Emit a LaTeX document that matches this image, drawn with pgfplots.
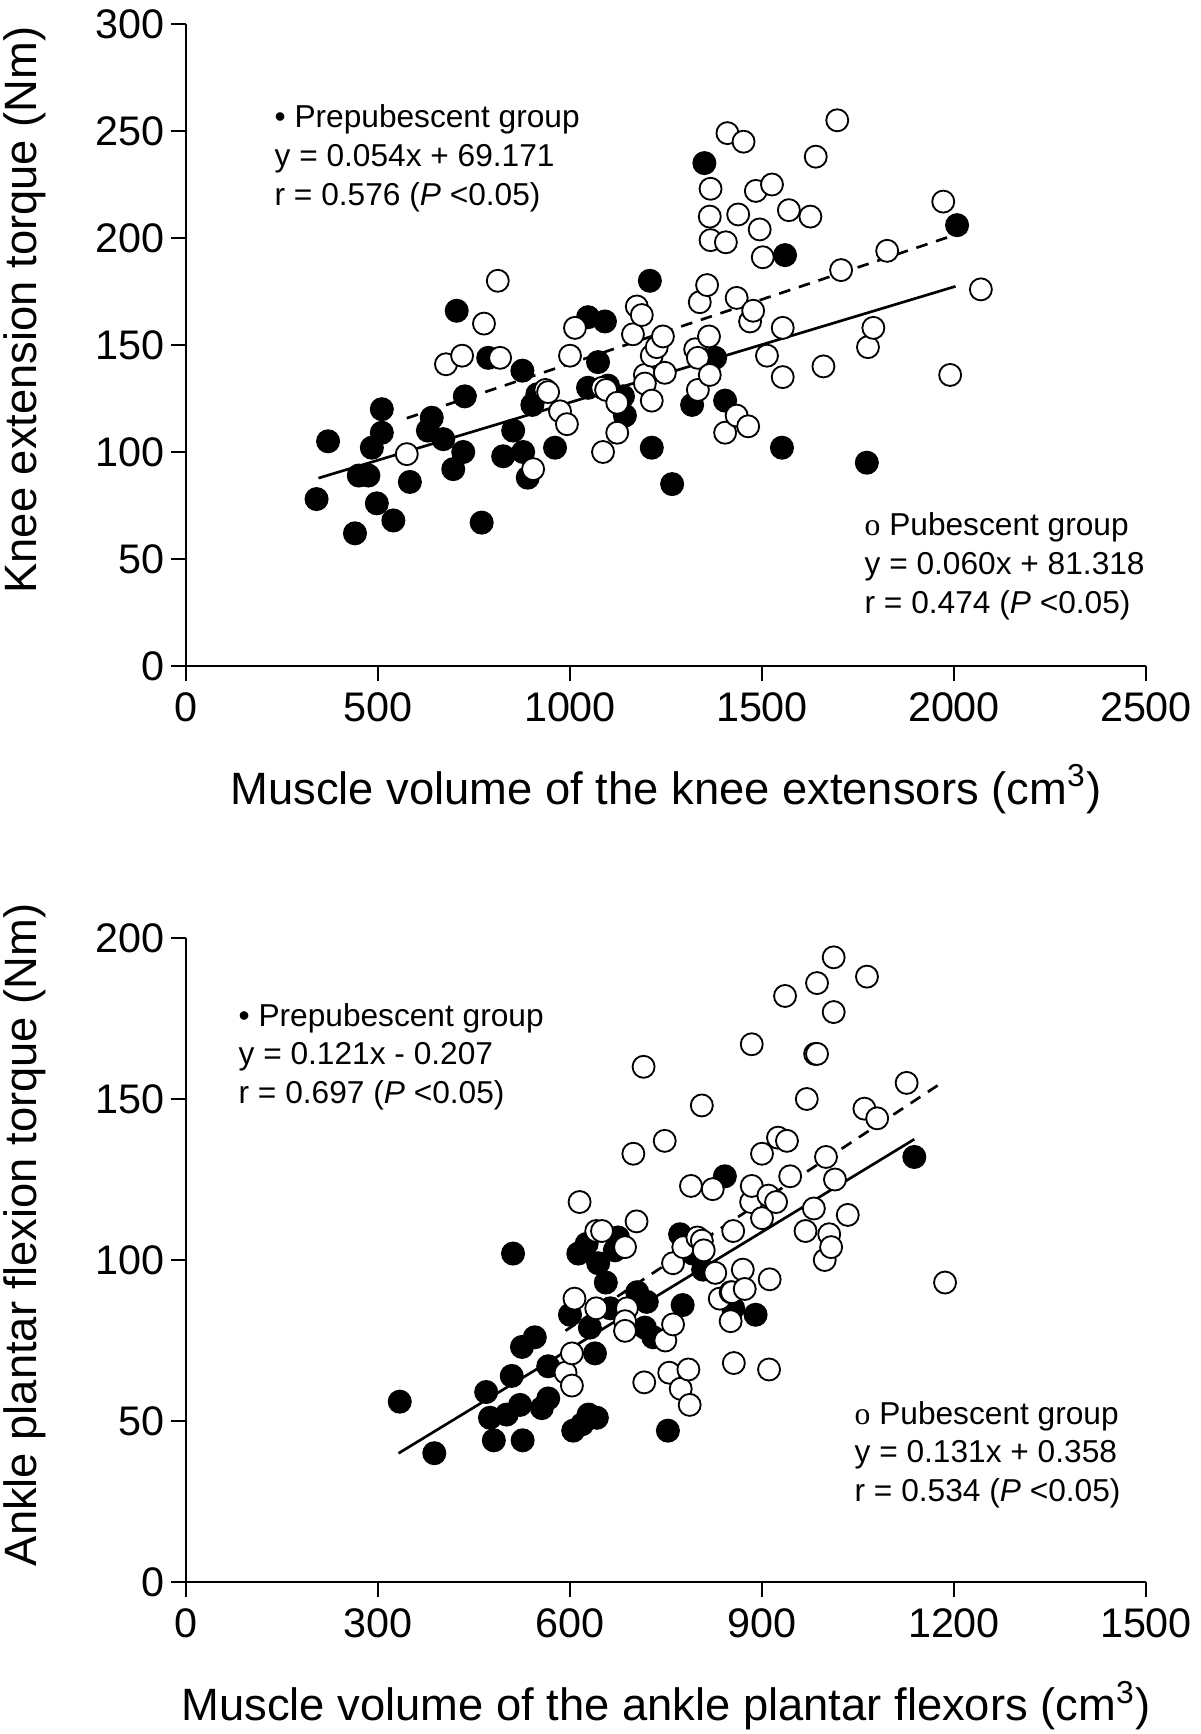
\documentclass[border=0pt]{standalone}
\usepackage{fontspec}
\setmainfont{Liberation Sans}
\newfontfamily\seriffont{Liberation Serif}
\usepackage{pgfplots}
\pgfplotsset{compat=1.18}
\pgfplotsset{
  myax/.style={
    scale only axis, width=288pt, anchor=south west,
    axis x line*=bottom, axis y line*=left,
    axis line style={line width=0.7pt},
    tick style={line width=0.7pt, black},
    major tick length=4.5pt,
    tick align=outside,
    every tick label/.append style={font=\fontsize{12.4}{14}\selectfont},
    yticklabel style={inner xsep=1.8pt},
    /pgf/number format/assume math mode=true,
    /pgf/number format/set thousands separator={},
    xmin=0, ymin=0,
    clip=false,
    label style={font=\fontsize{13.6}{16}\selectfont},
    xlabel style={at={(axis description cs:0.5,-0.215)}, anchor=base},
  },
  filled/.style={only marks, mark=*, mark size=3.4pt, mark options={fill=black, draw=black, line width=0.4pt}},
  open/.style={only marks, mark=*, mark size=3.3pt, mark options={fill=white, draw=black, line width=0.55pt}},
}
\tikzset{ann/.style={anchor=base west, font=\fontsize{9.5}{11}\selectfont, inner sep=0pt}}
\begin{document}
\begin{tikzpicture}
\useasboundingbox (0pt,0pt) rectangle (360pt,520.2pt);
% ---------------- top ----------------
\begin{axis}[myax, at={(55.8pt,320.4pt)}, height=192.6pt,
  xmax=2500, ymax=300,
  xtick={0,500,...,2500}, ytick={0,50,...,300},
  xlabel={Muscle volume of the knee extensors (cm\textsuperscript{3})},
  ylabel={Knee extension torque (Nm)},
  ylabel style={at={(axis description cs:-0.168,0.5545)}, anchor=center},
]
\addplot[filled] coordinates {
(340,78) (370,105) (440,62) (484,102) (450,89) (475,89) (497,76) (510,120)
(510,109) (540,68) (583,86) (630,110) (640,116) (670,106) (705,166) (696,92)
(722,100) (726,126) (770,67) (787,144) (826,98) (852,110) (876,138) (878,100)
(890,88) (902,122) (915,127) (961,102) (1047,130) (1047,163) (1073,142) (1091,161)
(1099,131) (1138,126) (1143,117) (1208,180) (1213,102) (1266,85) (1318,122) (1350,235)
(1378,144) (1404,124) (1552,102) (1560,192) (1773,95) (2008,206)
};
\addplot[open] coordinates {
(575,99) (677,141) (719,145) (776,160) (812,180) (818,144) (904,92) (936,129)
(943,128) (974,119) (992,113) (1000,145) (1013,158) (1084,130) (1086,100) (1094,129)
(1123,123) (1123,109) (1164,155) (1174,168) (1187,164) (1195,136) (1195,132) (1213,124)
(1213,145) (1226,149) (1242,154) (1247,137) (1326,148) (1333,144) (1333,129) (1338,170)
(1357,178) (1362,154) (1364,136) (1364,210) (1366,223) (1366,199) (1404,109) (1406,198)
(1410,249) (1434,172) (1434,117) (1438,211) (1452,245) (1464,112) (1469,161) (1477,166)
(1484,222) (1494,204) (1502,191) (1513,145) (1526,225) (1554,158) (1554,135) (1570,213)
(1626,210) (1640,238) (1660,140) (1696,255) (1706,185) (1776,149) (1790,158) (1826,194)
(1972,217) (1990,136) (2070,176)
};
\addplot[line width=0.8pt, black] coordinates {(345,87.8) (2004,177.4)};
\addplot[line width=0.8pt, black, dash pattern=on 3.5pt off 2.7pt] coordinates {(575,115.8) (2035,203.4)};
\end{axis}
% ---------------- bottom ----------------
\begin{axis}[myax, at={(55.8pt,45.6pt)}, height=193.2pt,
  xmax=1500, ymax=200,
  xtick={0,300,...,1500}, ytick={0,50,...,200},
  xlabel={Muscle volume of the ankle plantar flexors (cm\textsuperscript{3})},
  ylabel={Ankle plantar flexion torque (Nm)},
  ylabel style={at={(axis description cs:-0.168,0.539)}, anchor=center},
]
\addplot[filled] coordinates {
(334,56) (388,40) (469,59) (475,51) (481,44) (501,52) (509,64) (511,102)
(522,55) (525,73) (526,44) (545,76) (556,54) (566,57) (566,67) (600,83)
(605,47) (619,49) (613,102) (626,105) (629,52) (631,79) (639,71) (642,51)
(644,99) (656,93) (663,85) (670,103) (675,107) (705,90) (717,79) (720,87)
(730,76) (753,47) (772,108) (776,86) (792,102) (808,97) (842,126) (855,85)
(890,83) (1138,132)
};
\addplot[open] coordinates {
(593,65) (603,61) (603,71) (607,88) (615,118) (641,109) (641,85) (650,109)
(686,104) (689,85) (686,81) (686,78) (699,133) (704,112) (715,160) (716,62)
(748,137) (749,75) (755,65) (761,80) (761,99) (773,60) (777,104) (785,66)
(787,55) (789,123) (799,107) (806,148) (806,106) (809,103) (823,122) (827,96)
(834,88) (851,90) (851,81) (853,90) (855,109) (856,68) (870,97) (873,91)
(883,118) (884,123) (884,167) (900,133) (900,113) (910,120) (912,94) (911,66)
(922,118) (925,138) (939,137) (936,182) (944,126) (968,109) (970,150) (981,116)
(983,164) (986,164) (986,186) (998,100) (1000,132) (1005,108) (1008,104) (1014,125)
(1012,177) (1012,194) (1034,114) (1060,147) (1064,188) (1080,144) (1126,155) (1186,93)
};
\addplot[line width=0.8pt, black] coordinates {(332,39.96) (1138,137.5)};
\addplot[line width=0.8pt, black, dash pattern=on 3.5pt off 2.7pt] coordinates {(593,78.04) (1186,155.72)};
\end{axis}
% ---------------- annotations ----------------
\node[ann] at (82.2pt,481.8pt) {\textbullet\ Prepubescent group};
\node[ann] at (82.2pt,470.1pt) {y = 0.054x + 69.171};
\node[ann] at (82.2pt,458.4pt) {r = 0.576 (\textit{P} <0.05)};
\node[ann] at (259.2pt,359.4pt) {{\seriffont o} Pubescent group};
\node[ann] at (259.2pt,347.7pt) {y = 0.060x + 81.318};
\node[ann] at (259.2pt,336pt) {r = 0.474 (\textit{P} <0.05)};
\node[ann] at (71.4pt,212.1pt) {\textbullet\ Prepubescent group};
\node[ann] at (71.4pt,200.7pt) {y = 0.121x - 0.207};
\node[ann] at (71.4pt,189pt) {r = 0.697 (\textit{P} <0.05)};
\node[ann] at (256.2pt,92.7pt) {{\seriffont o} Pubescent group};
\node[ann] at (256.2pt,81.3pt) {y = 0.131x + 0.358};
\node[ann] at (256.2pt,69.6pt) {r = 0.534 (\textit{P} <0.05)};
\end{tikzpicture}
\end{document}
